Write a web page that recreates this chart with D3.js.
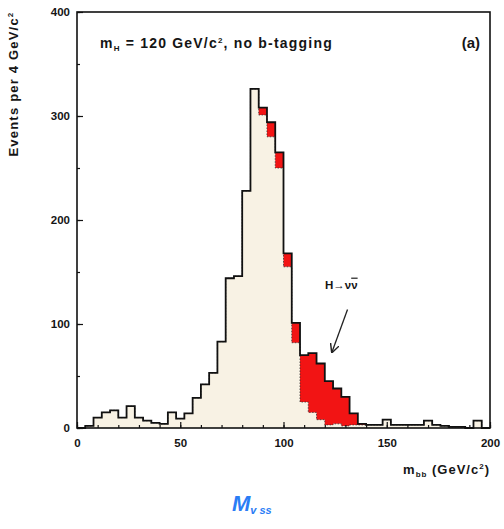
<!DOCTYPE html>
<html>
<head>
<meta charset="utf-8">
<script src="https://cdn.jsdelivr.net/npm/d3@7"></script>
<style>
  body { margin: 0; background: #fff; }
  svg { display: block; }
  text { font-family: 'Liberation Sans', Arial, sans-serif; font-weight: bold; fill: #151515; }
</style>
</head>
<body>
<svg id="chart"></svg>
<script>
// histogram bins, 4 GeV wide (lower edges)
const binWidth = 4;
const binLow = [0, 4, 8, 12, 16, 20, 24, 28, 32, 36, 40, 44, 48, 52, 56, 60, 64, 68, 72, 76,
  80, 84, 88, 92, 96, 100, 104, 108, 112, 116, 120, 124, 128, 132, 136, 140, 144, 148, 152, 156,
  160, 164, 168, 172, 176, 180, 184, 188, 192, 196];

// background events per bin
const bkgCounts = [0, 2, 10, 15, 17, 10, 21, 10, 7, 5, 4, 15, 9, 14, 29, 42, 53, 83, 144, 146,
  228, 326, 301, 280, 250, 155, 82, 25, 15, 8, 3, 4, 2, 3, 3, 3, 3, 8, 3, 3,
  3, 3, 7, 3, 2, 1, 1, 0, 7, 0];

// H -> nu nubar signal stacked on top
const sigCounts = [0, 0, 0, 0, 0, 0, 0, 0, 0, 0, 0, 0, 0, 0, 0, 0, 0, 0, 0, 0,
  0, 0, 7, 14, 15, 13, 19, 45, 57, 54, 42, 34, 28, 11, 1, 0, 0, 0, 0, 0,
  0, 0, 0, 0, 0, 0, 0, 0, 0, 0];

const xTicks = [0, 50, 100, 150, 200];
const yTicks = [0, 100, 200, 300, 400];

// arrow annotation, data units
const arrowFrom = [131, 114];
const arrowTo = [123.5, 73];
const arrowLabelAt = [128, 134];

class HistChart {

  constructor(_config) {
    this.config = {
      parentElement: _config.parentElement,
      containerWidth: 504,
      containerHeight: 529,
      margin: {top: 12, right: 14, bottom: 101, left: 77}
    }
    this.initVis();
  }

  initVis() {
    let vis = this;

    vis.svg = d3.select(vis.config.parentElement)
        .attr('width', vis.config.containerWidth)
        .attr('height', vis.config.containerHeight);

    vis.chart = vis.svg.append('g')
        .attr('transform', `translate(${vis.config.margin.left},${vis.config.margin.top})`);

    vis.width = vis.config.containerWidth - vis.config.margin.left - vis.config.margin.right;
    vis.height = vis.config.containerHeight - vis.config.margin.top - vis.config.margin.bottom;

    vis.xScale = d3.scaleLinear().domain([0, 200]).range([0, vis.width]);
    vis.yScale = d3.scaleLinear().domain([0, 400]).range([vis.height, 0]);

    vis.renderVis();
  }

  // step outline points for one set of bin values
  stepPoints(values) {
    let vis = this;
    const pts = [[vis.xScale(binLow[0]), vis.yScale(0)]];
    values.forEach((v, i) => {
      pts.push([vis.xScale(binLow[i]), vis.yScale(v)]);
      pts.push([vis.xScale(binLow[i] + binWidth), vis.yScale(v)]);
    });
    pts.push([vis.xScale(binLow[binLow.length - 1] + binWidth), vis.yScale(0)]);
    return pts;
  }

  renderVis() {
    let vis = this;
    const total = bkgCounts.map((b, i) => b + sigCounts[i]);

    // background fill
    vis.chart.append('path')
        .attr('d', d3.line()(vis.stepPoints(bkgCounts)))
        .attr('fill', '#f8f2e4')
        .attr('stroke', 'none');

    // signal band between background and total
    const band = [];
    sigCounts.forEach((s, i) => {
      band.push({x: vis.xScale(binLow[i]), lo: bkgCounts[i], hi: total[i]});
      band.push({x: vis.xScale(binLow[i] + binWidth), lo: bkgCounts[i], hi: total[i]});
    });
    vis.chart.append('path')
        .attr('d', d3.area()
            .x(d => d.x)
            .y0(d => vis.yScale(d.lo))
            .y1(d => vis.yScale(d.hi))(band))
        .attr('fill', '#f21414');

    // background outline, dotted like the print
    vis.chart.append('path')
        .attr('d', d3.line()(vis.stepPoints(bkgCounts)))
        .attr('fill', 'none')
        .attr('stroke', '#333')
        .attr('stroke-width', 0.8)
        .attr('stroke-dasharray', '1.5,1.5');

    // total outline
    vis.chart.append('path')
        .attr('d', d3.line()(vis.stepPoints(total)))
        .attr('fill', 'none')
        .attr('stroke', '#111')
        .attr('stroke-width', 1.8);

    // frame
    vis.chart.append('rect')
        .attr('width', vis.width)
        .attr('height', vis.height)
        .attr('fill', 'none')
        .attr('stroke', '#111')
        .attr('stroke-width', 1.6);

    // axes with inward ticks
    vis.xAxisG = vis.chart.append('g')
        .attr('transform', `translate(0,${vis.height})`)
        .call(d3.axisBottom(vis.xScale).tickValues(xTicks).tickSizeInner(-6).tickSizeOuter(0).tickPadding(11));
    vis.chart.append('g')
        .attr('transform', `translate(0,${vis.height})`)
        .call(d3.axisBottom(vis.xScale).ticks(20).tickSizeInner(-3).tickSizeOuter(0).tickFormat(''));
    vis.yAxisG = vis.chart.append('g')
        .call(d3.axisLeft(vis.yScale).tickValues(yTicks).tickSizeInner(-6).tickSizeOuter(0).tickPadding(7));
    vis.chart.append('g')
        .call(d3.axisLeft(vis.yScale).ticks(8).tickSizeInner(-3).tickSizeOuter(0).tickFormat(''));

    vis.chart.selectAll('.domain').remove();
    vis.chart.selectAll('.tick line').attr('stroke', '#111').attr('stroke-width', 1.2);
    vis.chart.selectAll('.tick text')
        .attr('font-size', '11.5px')
        .attr('font-family', "'Liberation Sans', Arial, sans-serif")
        .attr('font-weight', 'bold')
        .attr('fill', '#151515');

    // axis titles
    const yLabel = vis.svg.append('text')
        .attr('transform', `translate(18, 84) rotate(-90)`)
        .attr('text-anchor', 'middle')
        .attr('letter-spacing', '1.2px')
        .attr('font-size', '13px');
    yLabel.append('tspan').text('Events per 4 GeV/c');
    yLabel.append('tspan').attr('dy', -5).attr('font-size', '8px').text('2');

    const xLabel = vis.svg.append('text')
        .attr('x', 490)
        .attr('y', 474)
        .attr('text-anchor', 'end')
        .attr('letter-spacing', '1px')
        .attr('font-size', '13px');
    xLabel.append('tspan').text('m');
    xLabel.append('tspan').attr('dy', 3).attr('font-size', '8px').text('bb');
    xLabel.append('tspan').attr('dy', -3).text(' (GeV/c');
    xLabel.append('tspan').attr('dy', -5).attr('font-size', '8px').text('2');
    xLabel.append('tspan').attr('dy', 5).text(')');

    // title inside the frame
    const title = vis.chart.append('text')
        .attr('x', 23)
        .attr('y', 36)
        .attr('letter-spacing', '1.2px')
        .attr('font-size', '14px');
    title.append('tspan').text('m');
    title.append('tspan').attr('dy', 3).attr('font-size', '8px').text('H');
    title.append('tspan').attr('dy', -3).text(' = 120 GeV/c');
    title.append('tspan').attr('dy', -5).attr('font-size', '8px').text('2');
    title.append('tspan').attr('dy', 5).text(', no b-tagging');

    vis.chart.append('text')
        .attr('x', vis.width - 10)
        .attr('y', 36)
        .attr('text-anchor', 'end')
        .attr('font-size', '15px')
        .text('(a)');

    // H -> nu nubar arrow
    vis.svg.append('defs').append('marker')
        .attr('id', 'head')
        .attr('viewBox', '0 0 10 10')
        .attr('refX', 9).attr('refY', 5)
        .attr('markerWidth', 7).attr('markerHeight', 7)
        .attr('orient', 'auto')
      .append('path')
        .attr('d', 'M0,0 L10,5 L0,10')
        .attr('fill', 'none')
        .attr('stroke', '#222')
        .attr('stroke-width', 1.6);
    vis.chart.append('line')
        .attr('x1', vis.xScale(arrowFrom[0])).attr('y1', vis.yScale(arrowFrom[1]))
        .attr('x2', vis.xScale(arrowTo[0])).attr('y2', vis.yScale(arrowTo[1]))
        .attr('stroke', '#222')
        .attr('stroke-width', 1.3)
        .attr('marker-end', 'url(#head)');
    const hLabel = vis.chart.append('text')
        .attr('x', vis.xScale(arrowLabelAt[0]))
        .attr('y', vis.yScale(arrowLabelAt[1]))
        .attr('text-anchor', 'middle')
        .attr('font-size', '11.5px');
    hLabel.append('tspan').text('H→ν');
    hLabel.append('tspan').attr('text-decoration', 'overline').text('ν');

    // handwritten note under the chart
    const note = vis.svg.append('text')
        .attr('x', 232)
        .attr('y', 511)
        .attr('font-family', "'DejaVu Sans', sans-serif")
        .attr('font-weight', 'normal')
        .attr('font-style', 'italic')
        .style('fill', '#2a7df5');
    note.append('tspan').attr('font-size', '22px').text('M');
    note.append('tspan').attr('dy', 3).attr('font-size', '11px').text('v ss');
  }
}

new HistChart({parentElement: '#chart'});
</script>
</body>
</html>
